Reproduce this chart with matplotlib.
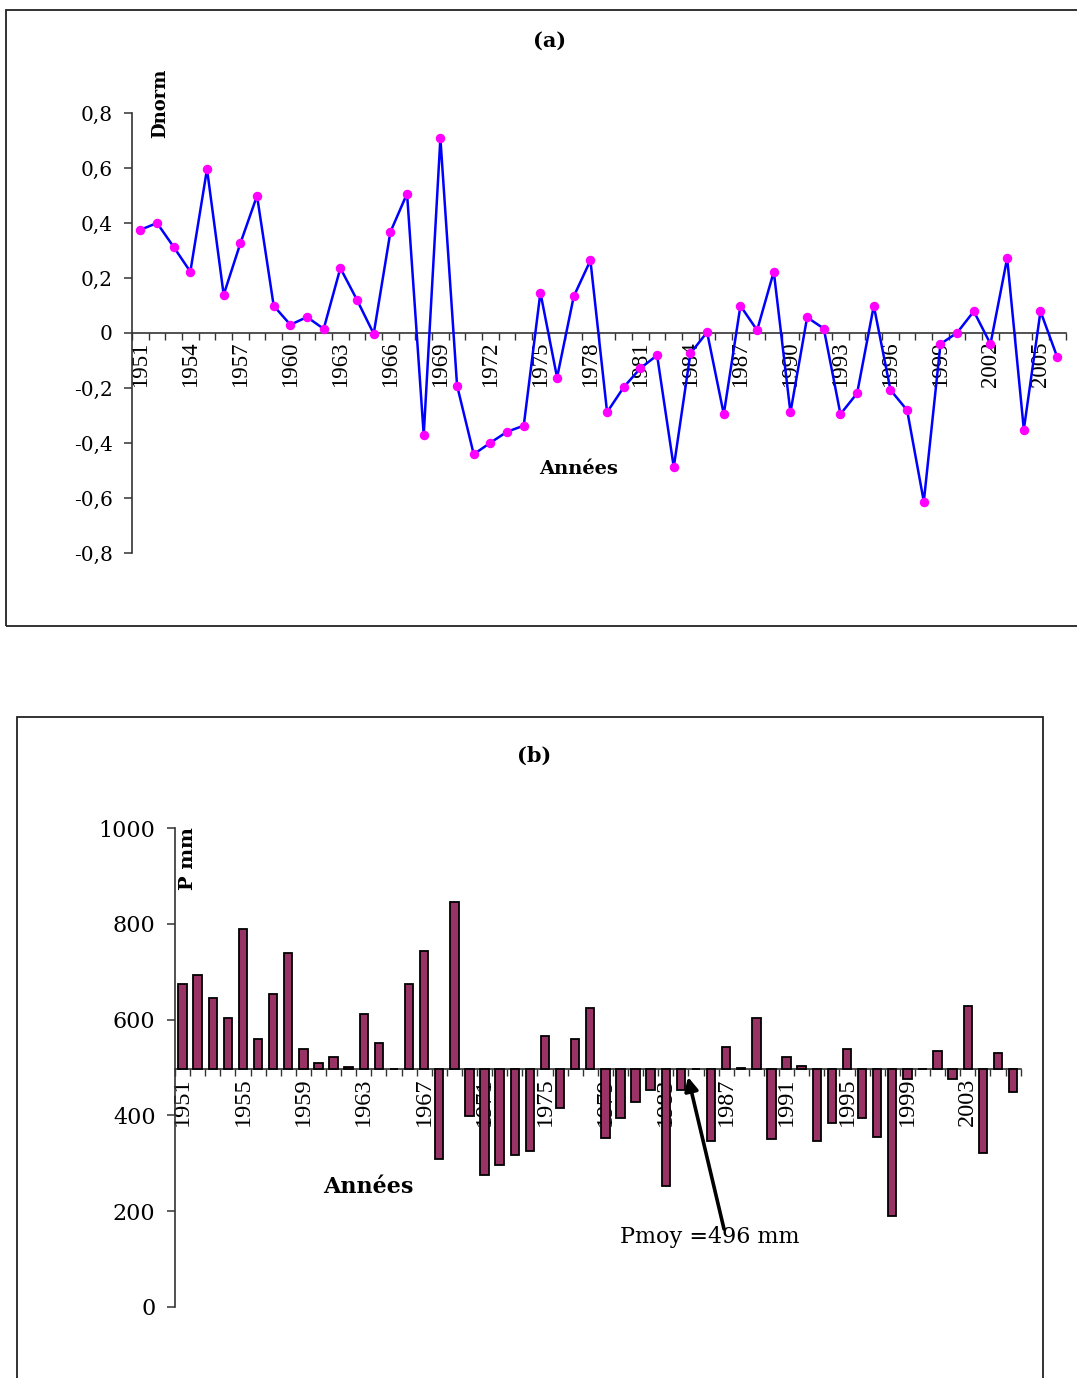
import numpy as np
import matplotlib
matplotlib.use("Agg")
import matplotlib.pyplot as plt
from matplotlib.patches import Rectangle

# ---------------- data ----------------
years = list(range(1951, 2007))
dnorm = [0.375, 0.40, 0.313, 0.223, 0.596, 0.139, 0.326, 0.499, 0.099, 0.03,
         0.058, 0.015, 0.236, 0.12, -0.003, 0.367, 0.507, -0.371, 0.708, -0.191,
         -0.441, -0.399, -0.359, -0.337, 0.147, -0.162, 0.133, 0.264, -0.288, -0.197,
         -0.128, -0.081, -0.488, -0.074, 0.003, -0.295, 0.099, 0.01, 0.223, -0.289,
         0.057, 0.016, -0.295, -0.219, 0.099, -0.207, -0.281, -0.613, -0.04, 0.001,
         0.079, -0.04, 0.272, -0.351, 0.079, -0.087]
precip = [675, 693, 646, 603, 790, 560, 654, 739, 539, 510,
          522, 502, 612, 552, 496, 675, 744, 309, 846, 399,
          275, 296, 318, 326, 565, 415, 560, 625, 352, 394,
          428, 453, 253, 453, 496, 347, 543, 500, 603, 351,
          522, 503, 347, 385, 539, 394, 355, 190, 476, 496,
          535, 476, 629, 322, 531, 449]
pmoy = 496
yticks_a = [-0.8, -0.6, -0.4, -0.2, 0.0, 0.2, 0.4, 0.6, 0.8]
yticks_b = [0, 200, 400, 600, 800, 1000]

# ---------------- layout helpers ----------------
W, H = 1077, 1378
fig = plt.figure(figsize=(W / 100, H / 100), dpi=100)


def rect(l, t, r, b):
    return [l / W, 1 - b / H, (r - l) / W, (b - t) / H]


def fxy(px, py):
    return px / W, 1 - py / H


SERIF = ['DejaVu Serif']
TIMES = ['Liberation Serif', 'DejaVu Serif']
SPINE = '#333333'

# panel frames
fig.patches.append(Rectangle(fxy(6, 626), (1100 - 6) / W, (626 - 10) / H,
                             transform=fig.transFigure, fill=False,
                             edgecolor='#222222', lw=1.3))
fig.patches.append(Rectangle(fxy(17, 1400), (1043 - 17) / W, (1400 - 717) / H,
                             transform=fig.transFigure, fill=False,
                             edgecolor='#222222', lw=1.3))

x = np.arange(len(years))


def fmt_comma(v):
    if abs(v) < 1e-9:
        return '0'
    return ('%.1f' % v).replace('.', ',')


def style_axes(ax, base, ticks, labels, step, ylabelsize, xlabelsize):
    ax.set_xlim(-0.5, len(years) - 0.5)
    for s in ['top', 'right']:
        ax.spines[s].set_visible(False)
    ax.spines['bottom'].set_position(('data', base))
    ax.spines['bottom'].set_color(SPINE)
    ax.spines['left'].set_color(SPINE)
    ax.spines['left'].set_linewidth(1.2)
    ax.spines['bottom'].set_linewidth(1.2)
    ax.set_yticks(ticks)
    ax.set_yticklabels(labels, fontfamily=SERIF, fontsize=ylabelsize)
    ax.tick_params(axis='y', direction='out', length=6, width=1.1, color=SPINE, pad=8)
    ax.set_xticks(x[::step])
    ax.set_xticklabels([str(y) for y in years[::step]], rotation=90,
                       fontfamily=TIMES, fontsize=xlabelsize)
    ax.set_xticks(np.arange(-0.5, len(years)), minor=True)
    ax.tick_params(axis='x', which='major', length=0, pad=6)
    ax.tick_params(axis='x', which='minor', direction='out', length=5,
                   width=1.0, color=SPINE)
    ax.patch.set_alpha(0)


# ---------------- panel (a) ----------------
ax1 = fig.add_axes(rect(132, 113, 1065.5, 553))
ax1.plot(x, dnorm, color='#0000FF', lw=1.8, marker='o', ms=5.8,
         mfc='#FF00FF', mec='#FF00FF', zorder=3, clip_on=False)
ax1.set_ylim(-0.8, 0.8)
style_axes(ax1, 0, yticks_a, [fmt_comma(v) for v in yticks_a], 3, 14.5, 16.5)

fig.text(*fxy(550, 41), '(a)', ha='center', va='center', fontfamily=SERIF,
         fontweight='bold', fontsize=15)
fig.text(*fxy(160, 103), 'Dnorm', ha='center', va='center', rotation=90,
         fontfamily=SERIF, fontweight='bold', fontsize=13)
fig.text(*fxy(579, 469), 'Années', ha='center', va='center',
         fontfamily=SERIF, fontweight='bold', fontsize=14)

# ---------------- panel (b) ----------------
ax2 = fig.add_axes(rect(175, 828.3, 175 + 56 * 15.1, 1306.7))
heights = [p - pmoy for p in precip]
ax2.bar(x, heights, bottom=pmoy, width=0.55, color='#993366',
        edgecolor='black', linewidth=1.3, zorder=3)
ax2.set_ylim(0, 1000)
style_axes(ax2, pmoy, yticks_b, [str(v) for v in yticks_b], 4, 16, 17.5)

fig.text(*fxy(534, 756), '(b)', ha='center', va='center', fontfamily=SERIF,
         fontweight='bold', fontsize=15)
fig.text(*fxy(188, 859), 'P mm', ha='center', va='center', rotation=90,
         fontfamily=SERIF, fontweight='bold', fontsize=14)
fig.text(*fxy(368, 1187), 'Années', ha='center', va='center',
         fontfamily=SERIF, fontweight='bold', fontsize=16)
fig.text(*fxy(710, 1237), 'Pmoy =%d mm' % pmoy, ha='center', va='center',
         fontfamily=SERIF, fontsize=16)
ax2.annotate('', xy=fxy(688, 1077), xycoords='figure fraction',
             xytext=fxy(724, 1229), textcoords='figure fraction',
             arrowprops=dict(arrowstyle='-|>', color='black', lw=2.6,
                             mutation_scale=20, shrinkA=0, shrinkB=0))

fig.savefig('out.png', dpi=100)
